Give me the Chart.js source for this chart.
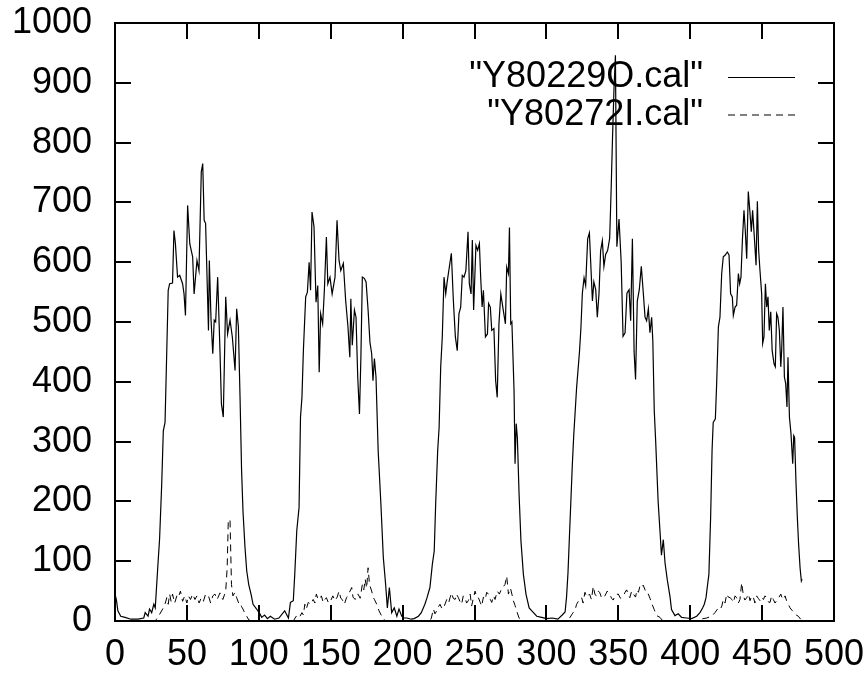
<!DOCTYPE html>
<html><head><meta charset="utf-8">
<script src="https://cdn.jsdelivr.net/npm/chart.js@4.4.1/dist/chart.umd.min.js"></script>
<style>html,body{margin:0;padding:0;background:#fff;}canvas{display:block;}</style>
</head><body>
<canvas id="c" width="867" height="673"></canvas>
<script>
const seriesNames = ['"Y80229O.cal"', '"Y80272I.cal"'];
const xTickValues = [0,50,100,150,200,250,300,350,400,450,500];
const yTickValues = [0,100,200,300,400,500,600,700,800,900,1000];

const series1Points = [[0,45],[1,35],[2,17],[4,8],[7,6],[11,3],[16,3],[20,5],[21,14],[23,8],[24,20],[25.5,14],[27,28],[28,22],[29,61],[30,100],[31,137],[32.5,230],[33.6,318],[34.8,332],[36,452],[37,553],[38,564],[40,565],[41,653],[42,631],[43.5,575],[45,578],[47,564],[48,547],[49,511],[50.5,695],[52,631],[54,609],[55,547],[57,603],[58.4,586],[60,751],[61,765],[62,670],[63,665],[65,486],[65.6,603],[66.8,503],[68,447],[69,503],[70,500],[71.4,575],[73,452],[74,363],[75.3,341],[77,542],[78.3,480],[80,503],[81.6,475],[83.5,419],[84.6,522],[85.8,492],[87,369],[88,254],[89,184],[90.4,123],[91.6,84],[93,61],[94.6,45],[96,28],[98.5,20],[101,11],[102,6],[104,10],[106,4],[108,8],[111,3],[114,5],[118,17],[120.6,5],[122,31],[124,34],[125,78],[126.4,151],[128,190],[129,341],[130,374],[131,452],[132.6,542],[133.8,550],[135,600],[136,553],[137,684],[138.4,659],[139.8,533],[141,561],[142,416],[143,514],[144.4,497],[145.6,553],[147,642],[148,564],[149.5,575],[151,547],[153,575],[154.4,670],[155.8,603],[157,586],[158.8,598],[160.4,536],[162,492],[163.3,441],[164,539],[165,461],[166.5,520],[167.6,508],[168.8,408],[170,346],[171,441],[172,575],[173.4,573],[174.6,567],[176,520],[177.3,466],[178.5,447],[179.4,402],[180.4,439],[181.5,408],[183,285],[184.8,201],[186.6,106],[188.2,61],[189.4,22],[190.8,56],[192.4,14],[194.2,22],[196,8],[197.5,20],[199.4,8],[201,5],[203,5],[206,3],[208,4],[211,8],[213,14],[215.5,28],[217,39],[219,56],[220.7,95],[222,117],[223,196],[224.4,285],[225.4,324],[226.5,425],[227.6,475],[228.8,575],[230,547],[231,567],[232.5,592],[233.9,615],[235.3,536],[236.7,475],[238,452],[239.2,514],[240.4,525],[241.5,578],[242.7,575],[244,586],[245.5,651],[246.4,564],[247.6,547],[248.5,637],[249.4,520],[251,628],[252.2,620],[253.4,631],[254.3,575],[255.3,525],[256.2,553],[257.6,475],[259,480],[259.8,531],[261,525],[262,486],[263.5,489],[264.7,402],[265.8,374],[267,497],[268.3,547],[270,520],[271.5,497],[272.4,592],[273.6,581],[274.3,658],[275.2,497],[276,500],[277.5,385],[278.2,263],[279,330],[279.8,307],[281,212],[282.3,134],[284,78],[285.8,45],[288,22],[291,14],[293.3,8],[296.7,6],[300,4],[304,5],[308,3],[311,10],[313,15],[314,40],[315,80],[316,140],[317,200],[318,260],[319,310],[320,350],[321,390],[322,420],[323,450],[324,490],[325,548],[326.2,574],[327.3,561],[328.7,639],[329.9,649],[330.8,600],[332,535],[333,567],[334.3,554],[335.4,508],[336.6,548],[337.7,619],[338.9,636],[340,593],[341.2,613],[342.6,620],[344,640],[345,720],[346,810],[347,890],[348,946],[349,626],[350.5,672],[352,600],[353.3,476],[354.7,482],[356,548],[357.5,554],[358.6,502],[359.8,639],[361,450],[362,404],[363.2,535],[364.6,554],[366,593],[367.4,548],[368.6,508],[369.7,502],[370.9,522],[372,482],[373.2,508],[374,469],[375,352],[376,300],[377.7,200],[379,150],[380,110],[381.3,136],[382.5,97],[384,70],[386,40],[387,19],[389.4,9],[391.7,12],[394,6],[397.5,5],[401,4],[404.5,8],[406.8,14],[408.7,22],[409.8,28],[411,39],[412.1,61],[413,78],[414.2,173],[415.2,285],[416,332],[417.5,338],[418.4,397],[419.6,492],[420.7,508],[421.9,581],[423,609],[424.4,612],[425.8,617],[427,612],[428.1,547],[429.3,542],[430,511],[431.2,525],[432.3,528],[433.5,581],[434.4,564],[435.3,575],[436.3,637],[437.4,687],[438.3,653],[439.3,606],[440.4,718],[441.6,682],[442.5,651],[443.4,687],[444.6,642],[445.8,595],[446.7,702],[447.6,620],[448.5,587],[449.7,547],[450.4,464],[451.3,475],[452.3,564],[453.2,525],[454.1,542],[455,486],[456,517],[457,452],[458.3,430],[459.2,425],[460.1,514],[461,508],[462,486],[463,425],[463.6,452],[464.5,525],[465.5,408],[466.4,397],[467.3,358],[468,441],[469,341],[470.1,313],[471.3,263],[472,310],[472.6,307],[473.6,229],[474.5,173],[475.4,128],[476.4,89],[477.3,67],[477.8,70]];

const series2Points = [[0,0],[28,0],[31,11],[33.6,22],[35,30],[36,39],[37,28],[38,45],[39,33],[40,45],[41.5,30],[43,42],[44,39],[45.5,50],[47,33],[48.5,42],[50,30],[51,42],[52.5,36],[54,45],[55.6,36],[57,42],[58.5,30],[60,39],[61.5,33],[63,45],[65,42],[66.5,30],[68,42],[69.5,45],[71,36],[73,47],[74,40],[75,36],[77,50],[78,89],[78.8,170],[80,168],[81,61],[82,42],[83.5,48],[84.6,39],[86,30],[87,31],[88,24],[89,20],[90.5,12],[91.6,8],[93,2],[95,0],
[124,0],[126,8],[128,5],[130,14],[131,10],[132,28],[133,20],[134.4,31],[136,28],[137.8,36],[139,30],[140,45],[141,38],[142.5,36],[143.5,42],[144.8,31],[146,36],[147,39],[148.5,30],[150,34],[151.5,42],[153,34],[154.5,40],[155.8,50],[157,38],[158,36],[159.5,28],[161,39],[162.5,45],[164.6,56],[165.5,40],[167,36],[168,44],[169,45],[170.5,38],[172,61],[173,52],[174,70],[175,55],[176,89],[177,61],[178.5,50],[179.5,40],[180.4,36],[182,28],[183.6,17],[185.5,8],[187,2],[189,0],
[219,0],[220,5],[221.4,20],[222.5,12],[223.7,17],[225,24],[226,28],[227.5,20],[229,25],[230.7,36],[232,30],[233,39],[234,47],[235.2,38],[236.5,36],[237.5,45],[238.8,39],[240,32],[241,28],[242.2,42],[243.4,39],[244.5,30],[245.7,34],[247,45],[248,25],[249,36],[250.4,50],[251.5,40],[252.7,39],[254,31],[255,25],[256.2,40],[257.4,36],[258.5,48],[259.6,45],[261,36],[262,31],[263.2,42],[264.3,36],[265.8,50],[267.3,45],[268.5,52],[269.6,56],[271.2,61],[272.4,75],[273.6,45],[275,55],[276,45],[277,34],[278.2,26],[279.3,17],[281,5],[282.5,0],
[315,0],[316.4,6],[318,12],[320,19],[321,28],[322,32],[323.3,36],[324.5,39],[325.5,30],[326.8,48],[328,40],[330,45],[331.3,36],[332.6,58],[333.8,44],[335,42],[336,50],[337,48],[338.5,38],[340.7,42],[342.3,50],[344,45],[345.3,38],[346.5,35],[348,44],[350,45],[351.5,38],[353.5,42],[354.7,48],[355.8,52],[357,44],[358,39],[359.3,50],[360.5,45],[362,40],[363,52],[364,48],[365,58],[366,55],[367.3,60],[368.6,52],[369.7,45],[370.9,45],[372,38],[373,32],[374,25],[375,19],[376.7,9],[379,6],[381,0],
[405,0],[407,3],[411.5,5],[415,8],[417.2,14],[419.6,22],[421,20],[422,25],[423,36],[424.2,30],[425.4,45],[426.5,40],[427.7,39],[429,36],[430,31],[431.2,42],[432.3,39],[433.5,30],[434.6,36],[435.8,64],[437,42],[438,35],[439.3,39],[440.5,45],[441.6,34],[442.8,42],[444,39],[445,30],[446.2,42],[447.3,38],[448.5,34],[449.7,40],[450.9,36],[452,42],[453.2,39],[454.3,32],[455.5,31],[456.6,42],[457.8,36],[459,30],[460.6,36],[461.8,40],[463,45],[464,38],[464.8,36],[466,42],[467,34],[468.2,28],[469.4,22],[470.8,18],[472.2,14],[473.7,10],[475.2,8],[476.8,3]];

const FONT = '"Liberation Sans", Arial, Helvetica, sans-serif';
const TICK_LEN = 16;

const framePlugin = {
  id: 'frame',
  beforeDatasetsDraw(chart) {
    const ctx = chart.ctx;
    const ds = chart.data.datasets;
    const rows = [77.5, 115];
    ctx.save();
    ctx.font = '36px ' + FONT;
    ctx.fillStyle = '#000';
    ctx.textAlign = 'right';
    ctx.textBaseline = 'middle';
    for (let i = 0; i < ds.length; i++) {
      ctx.fillText(ds[i].label, 703, rows[i]);
      ctx.beginPath();
      ctx.strokeStyle = ds[i].borderColor;
      ctx.lineWidth = ds[i].borderWidth;
      ctx.setLineDash(ds[i].borderDash || []);
      ctx.moveTo(728, rows[i]);
      ctx.lineTo(795, rows[i]);
      ctx.stroke();
    }
    ctx.restore();
  },
  afterDatasetsDraw(chart) {
    const ctx = chart.ctx;
    const a = chart.chartArea;
    const xs = chart.scales.x, ys = chart.scales.y;
    ctx.save();
    ctx.strokeStyle = '#000';
    ctx.lineWidth = 2;
    ctx.setLineDash([]);
    ctx.strokeRect(a.left, a.top, a.right - a.left, a.bottom - a.top);
    ctx.beginPath();
    xTickValues.forEach(v => {
      const px = Math.round(xs.getPixelForValue(v));
      ctx.moveTo(px, a.bottom); ctx.lineTo(px, a.bottom - TICK_LEN);
      ctx.moveTo(px, a.top); ctx.lineTo(px, a.top + TICK_LEN);
    });
    yTickValues.forEach(v => {
      const py = Math.round(ys.getPixelForValue(v));
      ctx.moveTo(a.left, py); ctx.lineTo(a.left + TICK_LEN, py);
      ctx.moveTo(a.right, py); ctx.lineTo(a.right - TICK_LEN, py);
    });
    ctx.stroke();
    ctx.restore();
  }
};

new Chart(document.getElementById('c'), {
  type: 'line',
  data: {
    datasets: [
      { label: seriesNames[0], data: series1Points.map(p => ({x: p[0], y: p[1]})),
        borderColor: '#000', borderWidth: 1.2, pointRadius: 0, tension: 0, fill: false },
      { label: seriesNames[1], data: series2Points.map(p => ({x: p[0], y: p[1]})),
        borderColor: '#000', borderWidth: 1, borderDash: [7, 5], pointRadius: 0, tension: 0, fill: false }
    ]
  },
  options: {
    responsive: false,
    animation: false,
    devicePixelRatio: 1,
    layout: { padding: { top: 23, right: 33, left: 0, bottom: 0 } },
    plugins: { legend: { display: false }, tooltip: { enabled: false } },
    scales: {
      x: {
        type: 'linear', min: 0, max: 500,
        grid: { display: false, drawTicks: false },
        border: { display: false },
        afterBuildTicks: s => { s.ticks = xTickValues.map(v => ({ value: v })); },
        afterFit: s => { s.height = 52; s.paddingLeft = 0; s.paddingRight = 0; s.paddingTop = 0; s.paddingBottom = 0; },
        ticks: { color: '#000', font: { family: FONT, size: 36 }, padding: 12, maxRotation: 0, autoSkip: false,
                 callback: v => String(v) }
      },
      y: {
        type: 'linear', min: 0, max: 1000,
        grid: { display: false, drawTicks: false },
        border: { display: false },
        afterBuildTicks: s => { s.ticks = yTickValues.map(v => ({ value: v })); },
        afterFit: s => { s.width = 115; s.paddingLeft = 0; s.paddingRight = 0; s.paddingTop = 0; s.paddingBottom = 0; },
        ticks: { color: '#000', font: { family: FONT, size: 36 }, padding: 23, autoSkip: false,
                 callback: v => String(v) }
      }
    }
  },
  plugins: [framePlugin]
});
</script>
</body></html>
